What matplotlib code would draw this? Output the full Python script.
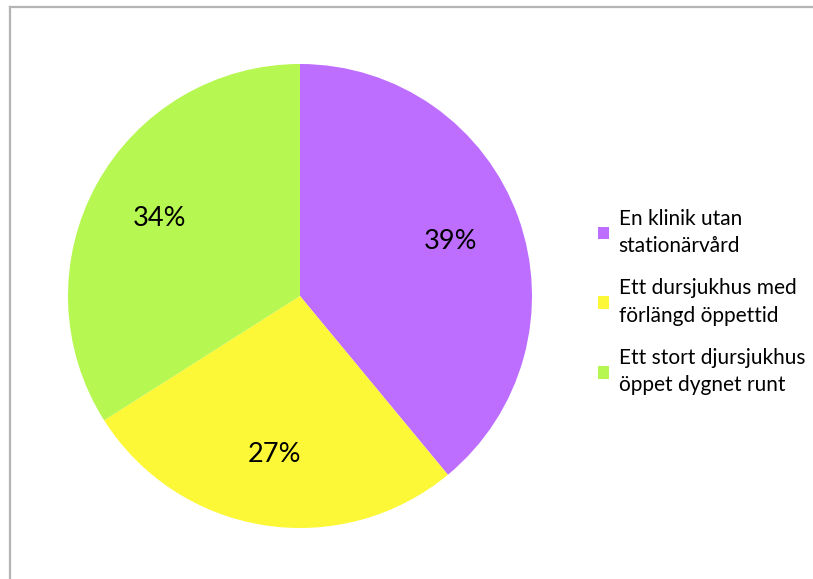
import matplotlib.pyplot as plt
from matplotlib.lines import Line2D
from matplotlib.patches import Patch

# data
labels = ['En klinik utan\nstationärvård',
          'Ett dursjukhus med\nförlängd öppettid',
          'Ett stort djursjukhus\nöppet dygnet runt']
shares = [39, 27, 34]
colors = ['#BE6EFF', '#FCF837', '#B6F751']

plt.rcParams['font.family'] = ['Lato', 'DejaVu Sans']

fig = plt.figure(figsize=(8.13, 5.79), dpi=100)
W, H = 813, 579

# grey frame: top and left edges only
x0, y0 = 10 / W, 1 - 7 / H
fig.add_artist(Line2D([x0, 1.0], [y0, y0], transform=fig.transFigure,
                      color='#b4b4b4', linewidth=1.6))
fig.add_artist(Line2D([x0, x0], [0.0, y0], transform=fig.transFigure,
                      color='#b4b4b4', linewidth=1.6))

ax = fig.add_axes([68 / W, (579 - 528) / H, 464 / W, 464 / H])
wedges, texts, autotexts = ax.pie(shares, colors=colors, startangle=90,
                                  counterclock=False, autopct='%d%%',
                                  pctdistance=0.69,
                                  textprops={'fontsize': 19.5, 'color': 'black'})
ax.set_aspect('equal')
ax.set_xlim(-1, 1)
ax.set_ylim(-1, 1)

handles = [Patch(facecolor=c, edgecolor='none') for c in colors]
leg = fig.legend(handles, labels, loc='center left',
                 bbox_to_anchor=(579 / W, 1 - 302 / H), frameon=False,
                 fontsize=15, handlelength=0.55, handleheight=0.55,
                 handletextpad=0.45, labelspacing=1.08)
for t in leg.get_texts():
    t.set_linespacing(1.45)

fig.savefig('out.png', dpi=100)
